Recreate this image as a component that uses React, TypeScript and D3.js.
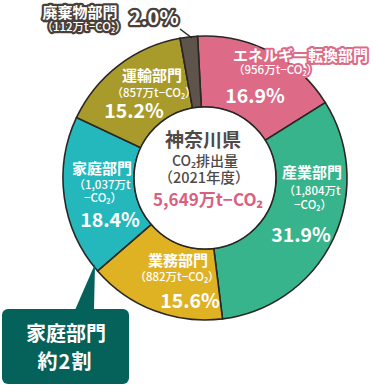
import React from "react";
import * as d3 from "d3";

const categories = ["エネルギー転換部門", "産業部門", "業務部門", "家庭部門", "運輸部門", "廃棄物部門"];
const emissions = [956, 1804, 882, 1037, 857, 112]; // 万t-CO2
const emissionLabels = ["956", "1,804", "882", "1,037", "857", "112"];
const shareLabels = ["16.9%", "31.9%", "15.6%", "18.4%", "15.2%", "2.0%"];
const colors = ["#dd6a86", "#37b48b", "#dfb224", "#24b8bd", "#a99b2b", "#5e544b"];
const totalLabel = "5,649";

const W = 374, H = 385;
const cx = 205, cy = 178, R = 142, r0 = 71;
const START = (-3 * Math.PI) / 180;
const FONT = "'Noto Sans CJK JP', 'Noto Sans', sans-serif";

// label layout (positions only)
type L = { name: [number, number]; sub: [number, number][]; pct: [number, number]; anchor: string; pctSize: number };
const layout: L[] = [
  { name: [233, 61], sub: [[233, 74]], pct: [255, 103], anchor: "start", pctSize: 19.5 },
  { name: [312, 178], sub: [[312, 195], [313, 209]], pct: [301, 242], anchor: "middle", pctSize: 19.5 },
  { name: [178, 266], sub: [[177, 281]], pct: [190, 308], anchor: "middle", pctSize: 19.5 },
  { name: [102, 174], sub: [[102, 189], [103, 202]], pct: [110, 227], anchor: "middle", pctSize: 19.5 },
  { name: [152, 81], sub: [[154, 97]], pct: [134, 118], anchor: "middle", pctSize: 19.5 },
  { name: [80, 18], sub: [[84, 31]], pct: [154, 25], anchor: "middle", pctSize: 20 },
];

export default function App() {
  const pie = d3.pie<number>().sort(null).value((d) => d).startAngle(START).endAngle(START + 2 * Math.PI);
  const arcs = pie(emissions);
  const arcGen = d3.arc<d3.PieArcDatum<number>>().innerRadius(r0).outerRadius(R);

  const outline = (i: number) =>
    i === 0
      ? { stroke: colors[0], strokeWidth: 4, paintOrder: "stroke" as const, strokeLinejoin: "round" as const }
      : i === 5
      ? { stroke: "#4a4039", strokeWidth: 4.5, paintOrder: "stroke" as const, strokeLinejoin: "round" as const }
      : {};

  return (
    <svg width={W} height={H} style={{ position: "absolute", left: 0, top: 0 }} fontFamily={FONT}>
      <g transform={`translate(${cx},${cy})`}>
        {arcs.map((a, i) => (
          <path key={i} d={arcGen(a) || ""} fill={colors[i]} stroke="#2a2624" strokeWidth={1.6} />
        ))}
        <circle r={r0} fill="#fff" stroke="#2a2624" strokeWidth={1.6} />
      </g>
      {/* leader for waste */}
      <line x1={180} y1={29} x2={192} y2={38} stroke="#2a2624" strokeWidth={1.5} />

      {categories.map((c, i) => {
        const l = layout[i];
        const subTexts = l.sub.length === 1
          ? [`（${emissionLabels[i]}万t−CO₂）`]
          : [`（${emissionLabels[i]}万t`, "−CO₂）"];
        return (
          <g key={i} fill="#fff" fontWeight={700}>
            <text x={l.name[0]} y={l.name[1]} textAnchor={l.anchor} fontSize={15} {...outline(i)}>{c}</text>
            {l.sub.map((s, j) => (
              <text key={j} x={s[0]} y={s[1]} textAnchor={l.anchor} fontSize={11.5} fontWeight={500} {...outline(i)}>
                {subTexts[j]}
              </text>
            ))}
            <text x={l.pct[0]} y={l.pct[1]} textAnchor="middle" fontSize={l.pctSize} {...outline(i)}>{shareLabels[i]}</text>
          </g>
        );
      })}

      {/* center */}
      <g textAnchor="middle" fill="#4d4a48" fontWeight={700}>
        <text x={203} y={147} fontSize={19}>神奈川県</text>
        <text x={205} y={166} fontSize={14} fontWeight={500}>CO₂排出量</text>
        <text x={204} y={183} fontSize={14.5} fontWeight={500}>（2021年度）</text>
        <text x={208} y={206} fontSize={17} fill="#d9607f">{`${totalLabel}万t−CO₂`}</text>
      </g>

      {/* callout */}
      <path d="M75,310 L95,264 L94,310 Z" fill="#04625b" />
      <rect x={2} y={309} width={127} height={75} rx={6} fill="#04625b" />
      <g textAnchor="middle" fill="#fff" fontWeight={700} fontSize={20}>
        <text x={66} y={341}>家庭部門</text>
        <text x={65} y={369} letterSpacing={1}>約2割</text>
      </g>
    </svg>
  );
}
